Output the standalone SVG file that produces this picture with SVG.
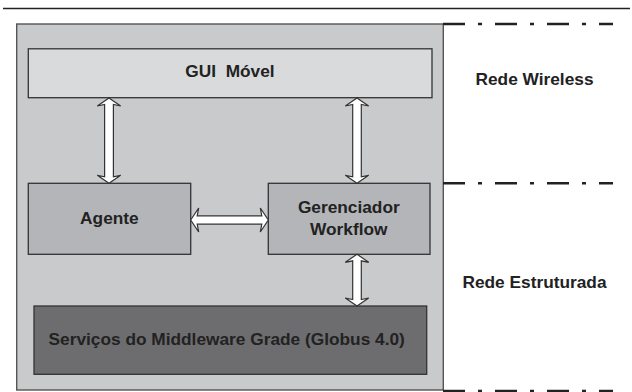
<svg xmlns="http://www.w3.org/2000/svg" width="632" height="392" viewBox="0 0 632 392">
  <style>
    .box { stroke: #333; stroke-width: 1.3; }
    .lbl { font-family: "Liberation Sans", Arial, sans-serif; font-weight: bold; font-size: 17.3px; fill: #222; text-anchor: middle; white-space: pre; }
    .arrow { fill: #fff; stroke: #333; stroke-width: 1.2; stroke-linejoin: miter; }
    .zone { stroke: #222; stroke-width: 2.6; fill: none; stroke-dasharray: 22 13 4 13; }
  </style>

  <rect width="632" height="392" fill="#fff"/>

  <!-- header rule -->
  <line x1="3" y1="8.5" x2="630" y2="8.5" stroke="#222" stroke-width="1.5"/>

  <!-- container -->
  <g id="container">
    <rect x="16.7" y="24" width="426.6" height="366" fill="#c9cacc" stroke="#555" stroke-width="1.4"/>
  </g>

  <!-- network zone boundaries -->
  <g id="zones">
    <line class="zone" x1="443" y1="24" x2="613" y2="24"/>
    <line class="zone" x1="443" y1="183.3" x2="613" y2="183.3"/>
    <line class="zone" x1="443" y1="391" x2="613" y2="391" stroke-width="3"/>
  </g>

  <g id="gui">
    <rect class="box" x="28.3" y="48.8" width="403.7" height="48.9" fill="#d9dadb"/>
    <text class="lbl" x="230" y="77.3">GUI  Móvel</text>
  </g>

  <g id="agente">
    <rect class="box" x="28.3" y="183.3" width="162.4" height="71" fill="#b4b5b8"/>
    <text class="lbl" x="109.4" y="224">Agente</text>
  </g>

  <g id="gerenciador">
    <rect class="box" x="268.3" y="183.3" width="161.7" height="71" fill="#b4b5b8"/>
    <text class="lbl" x="348.8" y="212.7">Gerenciador</text>
    <text class="lbl" x="348.8" y="235">Workflow</text>
  </g>

  <g id="servicos">
    <rect class="box" x="34" y="306" width="392.7" height="68.3" fill="#6d6d6f"/>
    <text class="lbl" x="226.7" y="345">Serviços do Middleware Grade (Globus 4.0)</text>
  </g>

  <g id="rede-wireless">
    <text class="lbl" x="534.5" y="85">Rede Wireless</text>
  </g>
  <g id="rede-estruturada">
    <text class="lbl" x="534.5" y="288">Rede Estruturada</text>
  </g>

  <!-- connectors: double-headed hollow arrows -->
  <g id="connectors">
    <!-- GUI <-> Agente -->
    <polygon class="arrow" points="109,98 120.7,106 113.4,104.5 113.4,176.8 120.7,175.3 109,183.3 97.3,175.3 104.6,176.8 104.6,104.5 97.3,106"/>
    <!-- GUI <-> Gerenciador -->
    <polygon class="arrow" points="357,98 368.7,106 361.3,104.5 361.3,176.8 368.7,175.3 357,183.3 345.3,175.3 352.7,176.8 352.7,104.5 345.3,106"/>
    <!-- Agente <-> Gerenciador -->
    <polygon class="arrow" points="190.7,220 198.7,208 197.2,215.8 261.8,215.8 260.3,208 268.3,220 260.3,232 261.8,224.2 197.2,224.2 198.7,232"/>
    <!-- Gerenciador <-> Servicos -->
    <polygon class="arrow" points="357,254.3 368.7,262.3 361.3,260.8 361.3,299.5 368.7,298 357,306 345.3,298 352.7,299.5 352.7,260.8 345.3,262.3"/>
  </g>
</svg>
